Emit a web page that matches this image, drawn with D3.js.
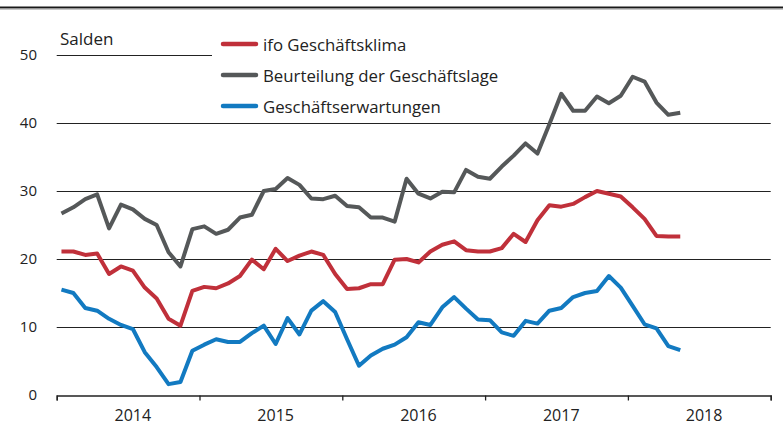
<!DOCTYPE html>
<html>
<head>
<meta charset="utf-8">
<script src="https://cdn.jsdelivr.net/npm/d3@7"></script>
<style>
  html, body { margin: 0; padding: 0; background: #fff; }
  svg { display: block; font-family: "Source Sans Pro", "Open Sans", sans-serif; }
</style>
</head>
<body>
<svg id="chart" width="783" height="425"></svg>
<script>
// Monthly data, Jan 2014 – May 2018
const years = ["2014", "2015", "2016", "2017", "2018"];
const yTicks = [0, 10, 20, 30, 40, 50];
const seriesNames = ["ifo Geschäftsklima", "Beurteilung der Geschäftslage", "Geschäftserwartungen"];
const seriesColors = ["#c0303a", "#555859", "#127ac1"];

const klima = [
  21.1, 21.1, 20.6, 20.8, 17.8, 18.9, 18.3, 15.8, 14.2, 11.2, 10.2, 15.3,
  15.9, 15.7, 16.4, 17.5, 19.9, 18.5, 21.5, 19.7, 20.5, 21.1, 20.6, 17.8,
  15.6, 15.7, 16.3, 16.3, 19.9, 20.0, 19.5, 21.1, 22.1, 22.6, 21.3, 21.1,
  21.1, 21.6, 23.7, 22.5, 25.7, 27.9, 27.7, 28.1, 29.1, 30.0, 29.6, 29.2,
  27.6, 25.9, 23.4, 23.3, 23.3
];
const lage = [
  26.7, 27.6, 28.8, 29.5, 24.5, 28.0, 27.3, 25.9, 25.0, 21.0, 18.9, 24.4,
  24.8, 23.7, 24.3, 26.1, 26.5, 30.0, 30.3, 31.9, 30.9, 28.9, 28.8, 29.3,
  27.8, 27.6, 26.1, 26.1, 25.5, 31.8, 29.6, 28.9, 29.9, 29.8, 33.1, 32.1,
  31.8, 33.6, 35.2, 37.0, 35.5, 39.8, 44.3, 41.8, 41.8, 43.9, 42.9, 44.0,
  46.8, 46.1, 43.0, 41.2, 41.5
];
const erwartungen = [
  15.5, 15.0, 12.8, 12.4, 11.2, 10.3, 9.7, 6.3, 4.1, 1.6, 1.9, 6.5,
  7.4, 8.2, 7.8, 7.8, 9.1, 10.2, 7.5, 11.3, 8.9, 12.4, 13.8, 12.2,
  8.2, 4.3, 5.8, 6.8, 7.4, 8.5, 10.7, 10.3, 12.9, 14.4, 12.7, 11.1,
  11.0, 9.2, 8.7, 10.9, 10.5, 12.4, 12.8, 14.4, 15.0, 15.3, 17.5, 15.8,
  13.1, 10.4, 9.8, 7.2, 6.6
];
const series = [klima, lage, erwartungen];

const svg = d3.select("#chart");
const plotLeft = 56.7, plotRight = 770.7, plotTop = 55, plotBottom = 395;

const x = d3.scaleLinear().domain([0, 60]).range([plotLeft, plotRight]);
const y = d3.scaleLinear().domain([0, 50]).range([plotBottom, plotTop]);

// top rule
svg.append("line").attr("x1", 0).attr("x2", 783).attr("y1", 7.5).attr("y2", 7.5)
  .attr("stroke", "#1a1a1a").attr("stroke-width", 2.2);
svg.append("line").attr("x1", 0).attr("x2", 783).attr("y1", 9.3).attr("y2", 9.3)
  .attr("stroke", "#bbb").attr("stroke-width", 1);

// gridlines
svg.append("g").selectAll("line").data(yTicks.filter(d => d > 0)).join("line")
  .attr("x1", plotLeft)
  .attr("x2", d => d === 50 ? 212 : plotRight)
  .attr("y1", d => Math.round(y(d)) + 0.5)
  .attr("y2", d => Math.round(y(d)) + 0.5)
  .attr("stroke", "#222").attr("stroke-width", 1.2);

// y labels
svg.append("g").selectAll("text").data(yTicks).join("text")
  .attr("x", 37).attr("y", d => y(d)).attr("dy", "0.36em")
  .attr("text-anchor", "end").attr("font-size", 15).attr("fill", "#222")
  .text(d => d);

// x axis
const xAxis = d3.axisBottom(x).tickValues(d3.range(0, 61, 12)).tickSize(5).tickFormat("");
const gx = svg.append("g").attr("transform", `translate(0,${Math.round(plotBottom) + 0.5})`).call(xAxis);
gx.select(".domain").attr("stroke", "#222").attr("stroke-width", 1.3);
gx.selectAll(".tick line").attr("stroke", "#222").attr("stroke-width", 1.3);

svg.append("g").selectAll("text").data(years).join("text")
  .attr("x", (d, i) => x(i * 12 + 6.4)).attr("y", 420.5)
  .attr("text-anchor", "middle").attr("font-size", 16).attr("fill", "#222")
  .text(d => d);

// Salden label
svg.append("text").attr("x", 60).attr("y", 44.5).attr("font-size", 17).attr("fill", "#222").text("Salden");

// lines
const line = d3.line().x((d, i) => x(i + 0.4)).y(d => y(d)).curve(d3.curveLinear);
const order = [1, 0, 2];
order.forEach(k => {
  svg.append("path").datum(series[k])
    .attr("d", line).attr("fill", "none")
    .attr("stroke", seriesColors[k]).attr("stroke-width", 4)
    .attr("stroke-linejoin", "round").attr("stroke-linecap", "butt");
});

// legend
const legendY = [44, 75, 106];
const lg = svg.append("g");
seriesNames.forEach((n, i) => {
  lg.append("line").attr("x1", 223).attr("x2", 256).attr("y1", legendY[i]).attr("y2", legendY[i])
    .attr("stroke", seriesColors[i]).attr("stroke-width", 4.5).attr("stroke-linecap", "round");
  lg.append("text").attr("x", 263).attr("y", legendY[i]).attr("dy", "0.4em")
    .attr("font-size", 16.8).attr("fill", "#222").text(n);
});
</script>
</body>
</html>
